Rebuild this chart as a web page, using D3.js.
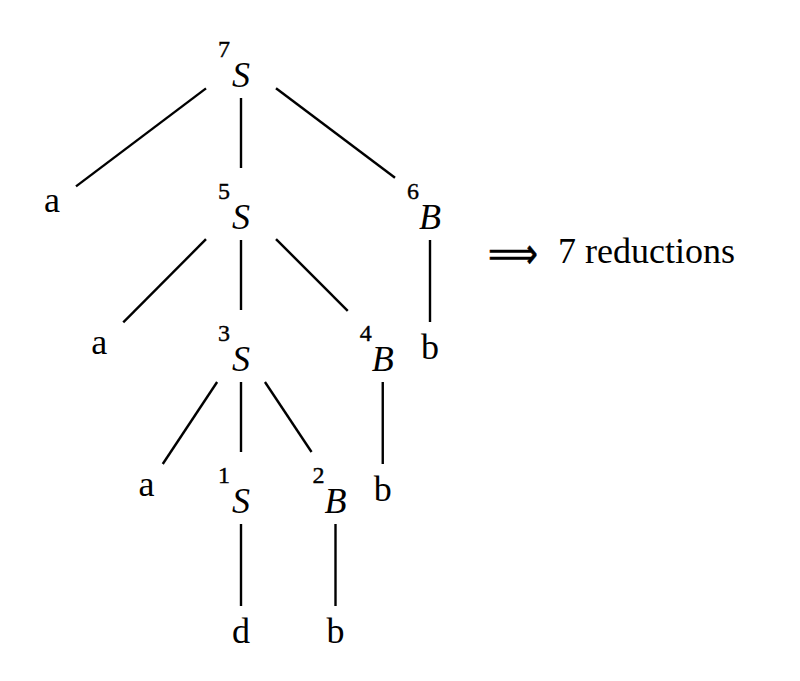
<!DOCTYPE html>
<html>
<head>
<meta charset="utf-8">
<script src="https://cdn.jsdelivr.net/npm/d3@7"></script>
<style>
  body { margin: 0; background: #fff; }
</style>
</head>
<body>
<div id="tree"></div>
<script>
// Parse tree, node by node (index = id)
const labels = ['S', 'a', 'S', 'B', 'a', 'S', 'B', 'b', 'a', 'S', 'B', 'b', 'd', 'b']
const steps = [7, null, 5, 6, null, 3, 4, null, null, 1, 2, null, null, null]
const parents = [null, 0, 0, 0, 2, 2, 2, 3, 5, 5, 5, 6, 9, 10]
const columns = [0, -4, 0, 4, -3, 0, 3, 4, -2, 0, 2, 3, 0, 2]
const noteArrow = '\u27F9'
const noteText = '7 reductions'

const width = 800,
  height = 681

let svg = d3.select('#tree')
  .append('svg')
  .attr('width', width)
  .attr('height', height)

// depth of each node from its parent chain
const depth = parents.map((p, i) => {
  let d = 0, k = i
  while (parents[k] !== null) { k = parents[k]; d++ }
  return d
})

const xScale = d3.scaleLinear()
  .domain([-4, 4])
  .range([52, 430])

// baseline of the nonterminals on each level
const yScale = d3.scaleLinear()
  .domain([0, 4])
  .range([87, 655])

const isNonterminal = i => steps[i] !== null
const tall = 'bdfhklt'

let nodes = labels.map((label, i) => {
  const x = xScale(columns[i])
  const lvl = yScale(depth[i])
  let box
  if (isNonterminal(i)) {
    box = { x0: x - 35, x1: x + 35, y0: lvl - 61, y1: lvl + 11 }
  } else {
    box = { x0: x - 24, x1: x + 24, y0: lvl - 49, y1: lvl }
  }
  const base = isNonterminal(i) ? lvl : lvl - (tall.includes(label) ? 12 : 17)
  return { i, label, step: steps[i], x, base, box,
    cx: x, cy: (box.y0 + box.y1) / 2 }
})

// clip the segment from a node centre towards a point on the node border
let clip = (n, tx, ty) => {
  const dx = tx - n.cx, dy = ty - n.cy
  const hw = (n.box.x1 - n.box.x0) / 2, hh = (n.box.y1 - n.box.y0) / 2
  const t = Math.min(dx === 0 ? Infinity : hw / Math.abs(dx),
    dy === 0 ? Infinity : hh / Math.abs(dy))
  return [n.cx + dx * t, n.cy + dy * t]
}

let links = nodes.filter(n => parents[n.i] !== null).map(n => {
  const p = nodes[parents[n.i]]
  const a = clip(p, n.cx, n.cy)
  const b = clip(n, p.cx, p.cy)
  return { x1: a[0], y1: a[1], x2: b[0], y2: b[1] }
})

svg.selectAll('line.edge')
  .data(links)
  .enter()
  .append('line')
  .attr('class', 'edge')
  .attr('x1', d => d.x1)
  .attr('y1', d => d.y1)
  .attr('x2', d => d.x2)
  .attr('y2', d => d.y2)
  .attr('stroke', '#000')
  .attr('stroke-width', 2.4)

let label = svg.selectAll('g.node')
  .data(nodes)
  .enter()
  .append('g')
  .attr('class', 'node')

label.append('text')
  .attr('x', d => d.x)
  .attr('y', d => d.base)
  .attr('text-anchor', 'middle')
  .attr('font-family', '"Liberation Serif", serif')
  .attr('font-size', 36)
  .attr('font-style', d => d.step !== null ? 'italic' : 'normal')
  .text(d => d.label)

label.filter(d => d.step !== null)
  .append('text')
  .attr('x', d => d.x - 17)
  .attr('y', d => d.base - 30)
  .attr('text-anchor', 'middle')
  .attr('font-family', '"Liberation Serif", serif')
  .attr('font-size', 24)
  .attr('stroke', '#000')
  .attr('stroke-width', 0.4)
  .text(d => d.step)

// note on the right
svg.append('text')
  .attr('x', 488)
  .attr('y', 268)
  .attr('font-family', '"DejaVu Sans", sans-serif')
  .attr('font-size', 42)
  .attr('textLength', 50)
  .attr('lengthAdjust', 'spacingAndGlyphs')
  .attr('stroke', '#000')
  .attr('stroke-width', 0.6)
  .text(noteArrow)

svg.append('text')
  .attr('x', 558)
  .attr('y', 263)
  .attr('font-family', '"Liberation Serif", serif')
  .attr('font-size', 36)
  .text(noteText)
</script>
</body>
</html>
